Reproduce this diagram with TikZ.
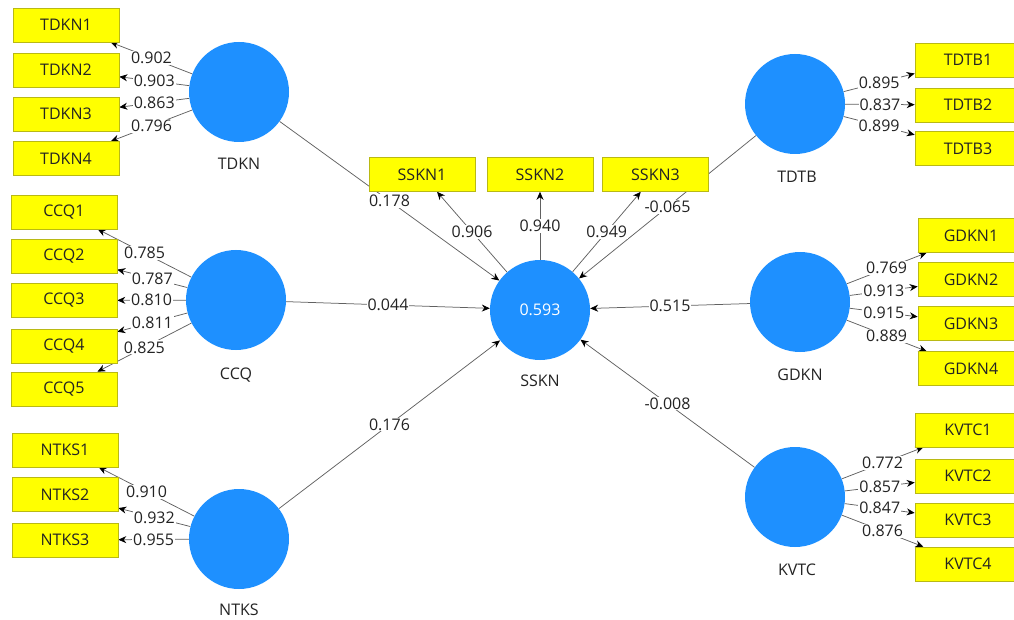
\documentclass[tikz,border=0pt]{standalone}
\usepackage{fontspec}
\setmainfont{Open Sans}
\usetikzlibrary{arrows.meta}
\definecolor{lvblue}{RGB}{30,144,255}
\definecolor{boxyellow}{RGB}{255,255,0}
\definecolor{boxedge}{RGB}{185,185,20}
\definecolor{txt}{RGB}{35,35,35}
\pgfdeclarelayer{lines}
\pgfsetlayers{lines,main}
\begin{document}
\begin{tikzpicture}[x=1pt,y=-1pt,
  font=\fontsize{16}{19}\selectfont,
  latent/.style={circle,fill=lvblue,minimum size=100pt,inner sep=0pt,text=white},
  ind/.style={rectangle,fill=boxyellow,draw=boxedge,line width=0.6pt,minimum width=106pt,minimum height=34pt,inner sep=0pt,text=txt},
  lname/.style={text=txt,inner sep=0pt},
  conn/.style={draw=black!62,line width=0.75pt,-{Stealth[length=8pt,width=7pt,color=black]}},
  coef/.style={fill=white,inner sep=1pt,text=txt,pos=0.5}
]
\useasboundingbox (0,0) rectangle (1014,620);
\clip (0,0) rectangle (1014,620);
% latent variables
\node[latent] (TDKN) at (239,92) {};
\node[latent] (CCQ) at (236,300) {};
\node[latent] (NTKS) at (239,539) {};
\node[latent] (SSKN) at (540,310) {0.593};
\node[latent] (TDTB) at (795,104) {};
\node[latent] (GDKN) at (800,302) {};
\node[latent] (KVTC) at (795,497) {};
\node[lname] (TDKNl) at (239,164) {TDKN};
\node[lname] (CCQl) at (236,375) {CCQ};
\node[lname] (NTKSl) at (239,610) {NTKS};
\node[lname] (SSKNl) at (540,381) {SSKN};
\node[lname] (TDTBl) at (797,177) {TDTB};
\node[lname] (GDKNl) at (800,375) {GDKN};
\node[lname] (KVTCl) at (797,570) {KVTC};
% indicators
\node[ind] (TDKN1) at (66,25) {TDKN1};
\node[ind] (TDKN2) at (66,70) {TDKN2};
\node[ind] (TDKN3) at (66,114) {TDKN3};
\node[ind] (TDKN4) at (66,158.5) {TDKN4};
\node[ind] (CCQ1) at (64,212) {CCQ1};
\node[ind] (CCQ2) at (64,256) {CCQ2};
\node[ind] (CCQ3) at (64,300.5) {CCQ3};
\node[ind] (CCQ4) at (64,346) {CCQ4};
\node[ind] (CCQ5) at (64,389) {CCQ5};
\node[ind] (NTKS1) at (65,450) {NTKS1};
\node[ind] (NTKS2) at (65,494.5) {NTKS2};
\node[ind] (NTKS3) at (65,540) {NTKS3};
\node[ind] (SSKN1) at (422,174.5) {SSKN1};
\node[ind] (SSKN2) at (540,174.5) {SSKN2};
\node[ind] (SSKN3) at (655.5,174.5) {SSKN3};
\node[ind] (TDTB1) at (968,60) {TDTB1};
\node[ind] (TDTB2) at (968,105) {TDTB2};
\node[ind] (TDTB3) at (968,148.5) {TDTB3};
\node[ind] (GDKN1) at (971,235.5) {GDKN1};
\node[ind] (GDKN2) at (971,279.5) {GDKN2};
\node[ind] (GDKN3) at (971,323.5) {GDKN3};
\node[ind] (GDKN4) at (971,368.5) {GDKN4};
\node[ind] (KVTC1) at (968,430) {KVTC1};
\node[ind] (KVTC2) at (968,476) {KVTC2};
\node[ind] (KVTC3) at (968,520) {KVTC3};
\node[ind] (KVTC4) at (968,564) {KVTC4};
\begin{pgfonlayer}{lines}
% structural paths
\draw[conn] (TDKN) -- node[coef] (c1) {0.178} (SSKN);
\draw[conn] (CCQ) -- node[coef] (c2) {0.044} (SSKN);
\draw[conn] (NTKS) -- node[coef] (c3) {0.176} (SSKN);
\draw[conn] (TDTB) -- node[coef] (c4) {-0.065} (SSKN);
\draw[conn] (GDKN) -- node[coef] (c5) {0.515} (SSKN);
\draw[conn] (KVTC) -- node[coef] (c6) {-0.008} (SSKN);
% loadings
\draw[conn] (TDKN) -- node[coef] (l1) {0.902} (TDKN1);
\draw[conn] (TDKN) -- node[coef] (l2) {0.903} (TDKN2);
\draw[conn] (TDKN) -- node[coef] (l3) {0.863} (TDKN3);
\draw[conn] (TDKN) -- node[coef] (l4) {0.796} (TDKN4);
\draw[conn] (CCQ) -- node[coef] (l5) {0.785} (CCQ1);
\draw[conn] (CCQ) -- node[coef] (l6) {0.787} (CCQ2);
\draw[conn] (CCQ) -- node[coef] (l7) {0.810} (CCQ3);
\draw[conn] (CCQ) -- node[coef] (l8) {0.811} (CCQ4);
\draw[conn] (CCQ) -- node[coef] (l9) {0.825} (CCQ5);
\draw[conn] (NTKS) -- node[coef] (l10) {0.910} (NTKS1);
\draw[conn] (NTKS) -- node[coef] (l11) {0.932} (NTKS2);
\draw[conn] (NTKS) -- node[coef] (l12) {0.955} (NTKS3);
\draw[conn] (SSKN) -- node[coef] (l13) {0.906} (SSKN1);
\draw[conn] (SSKN) -- node[coef] (l14) {0.940} (SSKN2);
\draw[conn] (SSKN) -- node[coef] (l15) {0.949} (SSKN3);
\draw[conn] (TDTB) -- node[coef] (l16) {0.895} (TDTB1);
\draw[conn] (TDTB) -- node[coef] (l17) {0.837} (TDTB2);
\draw[conn] (TDTB) -- node[coef] (l18) {0.899} (TDTB3);
\draw[conn] (GDKN) -- node[coef] (l19) {0.769} (GDKN1);
\draw[conn] (GDKN) -- node[coef] (l20) {0.913} (GDKN2);
\draw[conn] (GDKN) -- node[coef] (l21) {0.915} (GDKN3);
\draw[conn] (GDKN) -- node[coef] (l22) {0.889} (GDKN4);
\draw[conn] (KVTC) -- node[coef] (l23) {0.772} (KVTC1);
\draw[conn] (KVTC) -- node[coef] (l24) {0.857} (KVTC2);
\draw[conn] (KVTC) -- node[coef] (l25) {0.847} (KVTC3);
\draw[conn] (KVTC) -- node[coef] (l26) {0.876} (KVTC4);
\end{pgfonlayer}
\end{tikzpicture}
\end{document}
